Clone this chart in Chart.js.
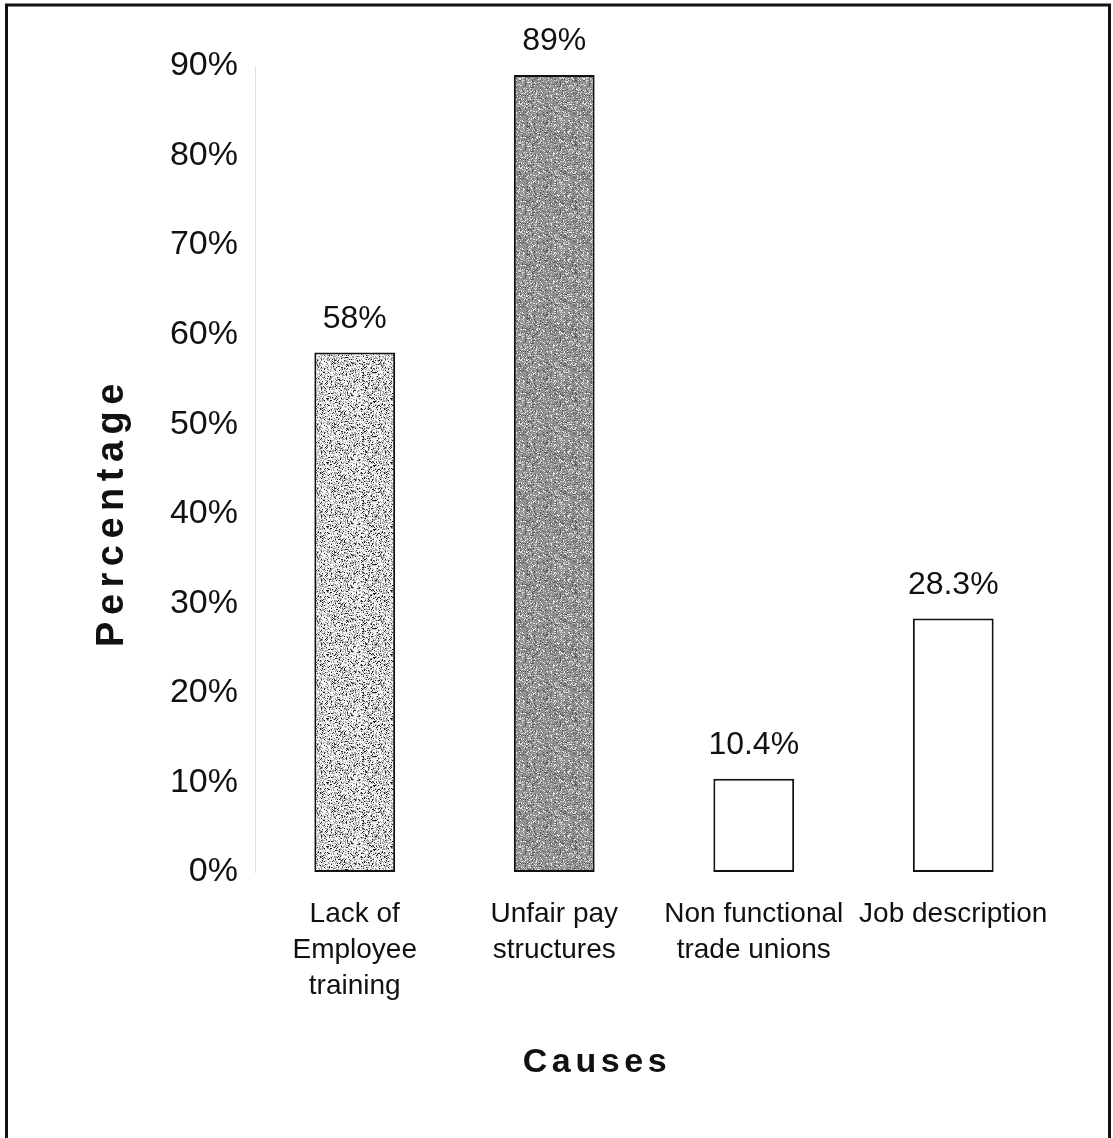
<!DOCTYPE html>
<html>
<head>
<meta charset="utf-8">
<script src="https://cdn.jsdelivr.net/npm/chart.js@4/dist/chart.umd.min.js"></script>
<style>
  html, body { margin: 0; padding: 0; background: #fff; }
  #wrap { width: 1113px; height: 1138px; }
</style>
</head>
<body>
<div id="wrap"><canvas id="chart" width="1113" height="1138"></canvas></div>
<script>
// Causes surveyed and the share of respondents naming each one
const categories = [
  ['Lack of', 'Employee', 'training'],
  ['Unfair pay', 'structures'],
  ['Non functional', 'trade unions'],
  ['Job description']
];
const percentages = [58, 89, 10.4, 28.3];
const yTickMin = 0;
const yTickMax = 90;
const yTickStep = 10;
const yAxisTitle = 'Percentage';
const xAxisTitle = 'Causes';

// Stippled fills for the shaded bars
function stipple(base, specks) {
  const size = 64;
  const c = document.createElement('canvas');
  c.width = size; c.height = size;
  const g = c.getContext('2d');
  g.fillStyle = base;
  g.fillRect(0, 0, size, size);
  for (let y = 0; y < size; y++) {
    for (let x = 0; x < size; x++) {
      let h = (x * 374761393 + y * 668265263) >>> 0;
      h = ((h ^ (h >>> 13)) * 1274126177) >>> 0;
      const r = (h % 1000) / 1000;
      let acc = 0;
      for (const s of specks) {
        acc += s.share;
        if (r < acc) { g.fillStyle = s.color; g.fillRect(x, y, 1, 1); break; }
      }
    }
  }
  return g.createPattern(c, 'repeat');
}

const ctx = document.getElementById('chart').getContext('2d');
const lightFill = stipple('#f4f4f4', [{ color: '#222222', share: 0.09 }, { color: '#a0a0a0', share: 0.3 }]);
const darkFill = stipple('#949494', [{ color: '#e8e8e8', share: 0.14 }, { color: '#5a5a5a', share: 0.16 }]);
const barFills = [lightFill, darkFill, '#ffffff', '#ffffff'];

const FONT = "'Liberation Sans', Arial, Helvetica, sans-serif";

const decorations = {
  id: 'decorations',
  beforeDraw(chart) {
    const c = chart.ctx;
    c.save();
    c.fillStyle = '#ffffff';
    c.fillRect(0, 0, chart.width, chart.height);
    c.restore();
  },
  afterDatasetsDraw(chart) {
    const c = chart.ctx;
    const meta = chart.getDatasetMeta(0);
    c.save();
    c.font = '32px ' + FONT;
    c.fillStyle = '#111111';
    c.textAlign = 'center';
    c.textBaseline = 'alphabetic';
    meta.data.forEach((bar, i) => {
      const v = chart.data.datasets[0].data[i];
      c.fillText(v + '%', bar.x, bar.y - 25);
    });
    c.restore();
  },
  afterDraw(chart) {
    const c = chart.ctx;
    c.save();
    c.fillStyle = '#111111';
    c.textAlign = 'center';
    c.textBaseline = 'middle';
    // vertical axis title
    c.save();
    c.translate(113, 515);
    c.rotate(-Math.PI / 2);
    c.font = 'bold 38px ' + FONT;
    c.letterSpacing = '6.5px';
    c.fillText(yAxisTitle, 3, 0);
    c.restore();
    // horizontal axis title
    c.font = 'bold 34px ' + FONT;
    c.letterSpacing = '4.6px';
    c.fillText(xAxisTitle, 597, 1063);
    c.letterSpacing = '0px';
    // frame around the figure
    c.strokeStyle = '#111111';
    c.lineWidth = 3;
    c.strokeRect(6.5, 5, chart.width - 10, chart.height + 20);
    c.restore();
  }
};

new Chart(ctx, {
  type: 'bar',
  data: {
    labels: categories,
    datasets: [{
      data: percentages,
      backgroundColor: barFills,
      borderColor: '#111111',
      borderWidth: 2,
      borderSkipped: false,
      barPercentage: 0.405,
      categoryPercentage: 1
    }]
  },
  options: {
    responsive: false,
    devicePixelRatio: 1,
    animation: false,
    layout: { padding: { left: 0, right: 60, top: 66, bottom: 0 } },
    plugins: {
      legend: { display: false },
      tooltip: { enabled: false }
    },
    scales: {
      x: {
        grid: { display: false, drawTicks: false },
        border: { display: false },
        ticks: {
          color: '#111111',
          font: { family: FONT, size: 28, lineHeight: 1.27 },
          padding: 25,
          maxRotation: 0,
          autoSkip: false
        },
        afterFit(scale) { scale.height = 266; }
      },
      y: {
        min: yTickMin,
        max: yTickMax,
        grid: { display: false, drawTicks: false },
        border: { display: true, color: 'rgba(0,0,0,0.12)', width: 1, dash: [1, 7] },
        ticks: {
          stepSize: yTickStep,
          color: '#111111',
          font: { family: FONT, size: 34 },
          padding: 17,
          callback: (v) => v + '%'
        },
        afterFit(scale) { scale.width = 255; }
      }
    }
  },
  plugins: [decorations]
});
</script>
</body>
</html>
